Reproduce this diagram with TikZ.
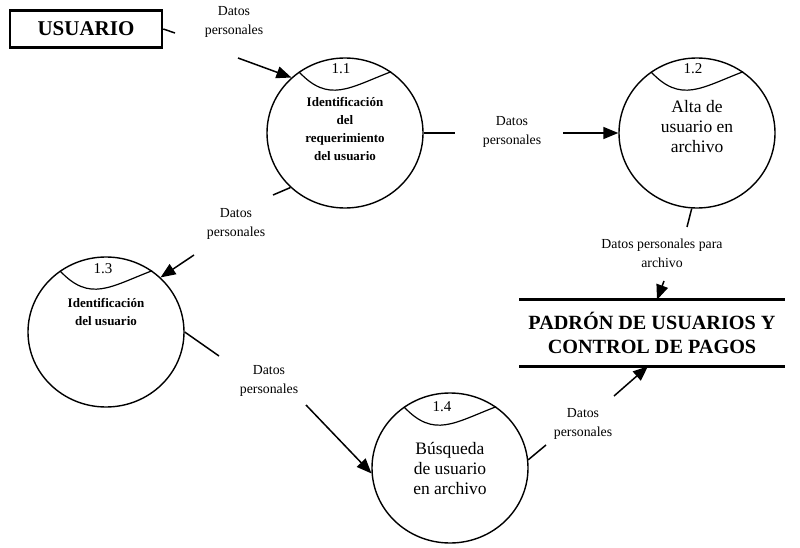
\documentclass[tikz,border=0pt]{standalone}
\usepackage{fontspec}
\setmainfont{Liberation Serif}
\usetikzlibrary{shapes.geometric,arrows.meta}
\begin{document}
\begin{tikzpicture}[x=1pt,y=-1pt,
  proc/.style={draw, ellipse, minimum width=156pt, minimum height=150pt, inner sep=0pt, line width=1.4pt},
  capline/.style={line width=1.2pt},
  flow/.style={line width=1.5pt},
  flowarr/.style={line width=1.5pt, -{Triangle[length=15pt,width=12pt]}},
  lbl/.style={align=center, font=\fontsize{13.8}{19}\selectfont, inner sep=0pt},
  num/.style={font=\fontsize{15}{15}\selectfont, inner sep=0pt},
  smalltxt/.style={align=center, font=\bfseries\fontsize{13}{17.7}\selectfont, inner sep=0pt},
  bigtxt/.style={align=center, font=\fontsize{17.5}{20}\selectfont, inner sep=0pt},
  entity/.style={draw, line width=2.5pt, minimum width=152pt, minimum height=37pt, inner sep=0pt,
    font=\bfseries\fontsize{21}{21}\selectfont},
  store/.style={minimum width=265pt, minimum height=66pt, inner sep=0pt, align=center,
    font=\bfseries\fontsize{20.2}{24}\selectfont},
  storeline/.style={line width=3pt}
]
\useasboundingbox (0,0) rectangle (800,548);

% external entity
\node[entity] (usr) at (86,29) {USUARIO};

% processes
\node[proc] (p11) at (345,133) {};
\node[proc] (p12) at (697,133) {};
\node[proc] (p13) at (106,332) {};
\node[proc] (p14) at (450,468) {};

% wavy caps holding the process numbers
\foreach \p in {p11,p12,p13,p14}
  \draw[capline] (\p.127) .. controls +(30,32) and +(-42,16) .. (\p.53);

\node[num] (n11) at (341,69) {1.1};
\node[num] (n12) at (693,69) {1.2};
\node[num] (n13) at (103,269) {1.3};
\node[num] (n14) at (442,407) {1.4};

% process descriptions
\node[smalltxt] (t11) at (345,129) {Identificación\\del\\requerimiento\\del usuario};
\node[bigtxt]   (t12) at (697,127) {Alta de\\usuario en\\archivo};
\node[smalltxt] (t13) at (106,312) {Identificación\\del usuario};
\node[bigtxt]   (t14) at (450,468) {Búsqueda\\de usuario\\en archivo};

% data store
\node[store] (st) at (652,333) {PADRÓN DE USUARIOS Y\\CONTROL DE PAGOS};
\draw[storeline] (st.north west) -- (st.north east);
\draw[storeline] (st.south west) -- (st.south east);

% flow labels
\node[lbl] (l1) at (234,22)  {Datos\\personales};
\node[lbl] (l2) at (512,132) {Datos\\personales};
\node[lbl] (l3) at (662,253) {Datos personales para\\archivo};
\node[lbl] (l4) at (236,224) {Datos\\personales};
\node[lbl] (l5) at (269,381) {Datos\\personales};
\node[lbl] (l6) at (583,424) {Datos\\personales};

% break points of the flows around their labels
\coordinate (c1a) at (175,33);  \coordinate (c1b) at (238,58);
\coordinate (c2a) at (455,133); \coordinate (c2b) at (563,133);
\coordinate (c3a) at (687,227); \coordinate (c3b) at (664,281);
\coordinate (c4a) at (273,195); \coordinate (c4b) at (194,255);
\coordinate (c5a) at (219,356); \coordinate (c5b) at (306,405);
\coordinate (c6a) at (546,445); \coordinate (c6b) at (614,396);

% data flows
\draw[flow] (usr.east) -- (c1a);
\draw[flowarr] (c1b) -- (p11.134);

\draw[flow] (p11.0) -- (c2a);
\draw[flowarr] (c2b) -- (p12.180);

\draw[flow] (p12.266) -- (c3a);
\draw[flowarr] (c3b) -- ([xshift=5pt]st.north);

\draw[flow] (p11.225) -- (c4a);
\draw[flowarr] (c4b) -- (p13.45);

\draw[flow] (p13.0) -- (c5a);
\draw[flowarr] (c5b) -- (p14.184);

\draw[flow] (p14.6) -- (c6a);
\draw[flowarr] (c6b) -- ([xshift=-4pt]st.south);
\end{tikzpicture}
\end{document}
